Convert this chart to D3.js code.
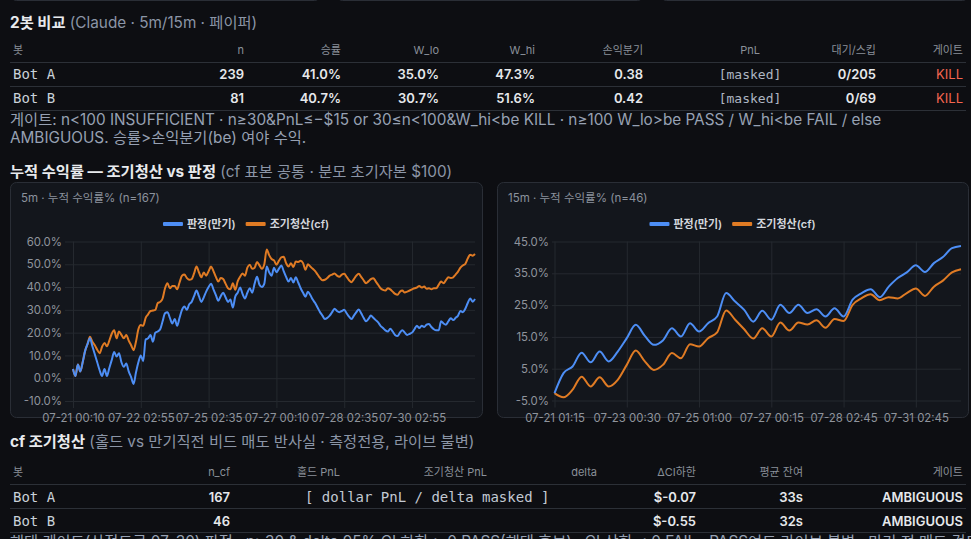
<!DOCTYPE html>
<html>
<head>
<meta charset="utf-8">
<script src="https://cdn.jsdelivr.net/npm/d3@7"></script>
<style>
    html, body { margin: 0; padding: 0; background: #0d0e12; overflow: hidden; }
    svg { display: block; }
</style>
</head>
<body>
<svg id="page" width="971" height="539"></svg>
<script>
(function () {

    'use strict';

    // ---- data ----

    var botNames = ['Bot A', 'Bot B'];

    var compareHeaders = ['봇', 'n', '승률', 'W_lo', 'W_hi', '손익분기', 'PnL', '대기/스킵', '게이트'];
    var compareN = ['239', '81'];
    var compareWinRate = ['41.0%', '40.7%'];
    var compareWLo = ['35.0%', '30.7%'];
    var compareWHi = ['47.3%', '51.6%'];
    var compareBreakeven = ['0.38', '0.42'];
    var comparePnl = ['[masked]', '[masked]'];
    var compareWaitSkip = ['0/205', '0/69'];
    var compareGate = ['KILL', 'KILL'];

    var cfHeaders = ['봇', 'n_cf', '홀드 PnL', '조기청산 PnL', 'delta', 'ΔCI하한', '평균 잔여', '게이트'];
    var cfN = ['167', '46'];
    var cfCiLow = ['$-0.07', '$-0.55'];
    var cfRemain = ['33s', '32s'];
    var cfGate = ['AMBIGUOUS', 'AMBIGUOUS'];
    var cfMaskedNote = '[ dollar PnL / delta masked ]';

    var seriesNames = ['판정(만기)', '조기청산(cf)'];

    // 5m, n=167
    var judge5m = [
        4.0, 1.0, 6.0, 3.0, 7.0, 12.0, 15.0, 17.5, 14.0, 10.5,
        7.0, 3.5, 1.0, 4.0, 1.0, 4.5, 8.0, 11.5, 9.5, 11.0,
        7.0, 5.0, 6.5, 3.0, 0.5, -2.5, 2.5, 7.0, 10.0, 7.5,
        17.0, 17.5, 19.0, 16.0, 20.0, 20.5, 21.5, 25.0, 28.5, 29.0,
        26.5, 24.0, 26.0, 23.0, 26.5, 30.0, 31.5, 30.0, 32.5, 33.5,
        36.0, 38.5, 36.0, 33.5, 35.5, 38.0, 40.0, 41.5, 39.0, 36.5,
        34.0, 36.0, 37.5, 35.5, 33.5, 34.5, 31.0, 35.8, 37.5, 39.8,
        37.0, 35.0, 37.5, 39.5, 37.5, 41.5, 44.5, 41.0, 40.0, 41.5,
        49.0, 46.5, 45.0, 48.5, 46.5, 48.0, 49.5, 47.0, 44.5, 42.4,
        44.0, 42.0, 44.3, 42.0, 39.5, 37.5, 35.8, 38.0, 36.5, 34.5,
        33.0, 31.0, 29.0, 27.5, 26.0, 26.5, 27.5, 29.0, 30.5, 29.5,
        29.0, 29.5, 30.0, 28.5, 27.0, 26.0, 27.5, 29.0, 30.2, 28.5,
        26.5, 25.0, 26.0, 27.5, 26.5, 25.5, 24.5, 23.0, 22.0, 21.0,
        20.5, 21.7, 20.5, 19.0, 18.5, 20.0, 21.0, 20.0, 19.0, 19.5,
        20.0, 21.5, 23.0, 22.0, 23.0, 22.5, 23.5, 23.8, 22.5, 21.5,
        21.0, 21.0, 25.0, 24.0, 23.5, 25.0, 26.3, 25.5, 26.5, 27.5,
        29.5, 29.0, 30.5, 33.0, 35.0, 33.6, 34.8
    ];
    var early5m = [
        4.0, 1.0, 6.0, 3.0, 7.0, 12.0, 15.0, 18.2, 16.0, 14.5,
        12.5, 11.0, 13.8, 15.5, 14.0, 16.5, 19.5, 21.0, 17.5, 20.5,
        19.0, 17.5, 19.0, 16.5, 14.5, 12.3, 16.0, 21.5, 23.3, 23.0,
        26.5, 28.0, 29.5, 29.7, 30.0, 33.0, 33.5, 35.0, 39.5, 41.7,
        39.5, 40.5, 40.5, 39.0, 42.0, 45.0, 45.5, 44.0, 43.2, 43.5,
        46.0, 49.0, 46.5, 44.3, 46.4, 45.0, 47.0, 49.0, 47.0, 44.5,
        42.4, 44.0, 43.5, 41.5, 39.5, 39.0, 41.7, 38.8, 42.5, 44.5,
        46.0, 45.0, 48.5, 49.8, 48.0, 48.5, 51.0, 49.5, 48.0, 50.0,
        56.5, 54.0, 52.3, 51.7, 49.8, 51.5, 53.0, 53.3, 50.5, 49.0,
        50.5, 48.8, 51.2, 51.0, 51.5, 50.5, 47.6, 50.0, 49.0, 48.0,
        47.0, 45.5, 44.0, 43.0, 43.2, 44.0, 45.0, 45.5, 46.0, 45.0,
        44.5, 45.5, 45.8, 44.5, 43.0, 42.1, 43.5, 45.0, 45.8, 44.5,
        43.0, 41.7, 42.5, 43.5, 43.9, 42.5, 41.0, 39.5, 38.8, 38.5,
        39.5, 39.0, 38.0, 37.0, 36.6, 38.0, 38.5, 37.6, 38.0, 38.5,
        39.0, 39.5, 39.8, 40.5, 39.8, 40.2, 39.3, 39.5, 39.0, 39.5,
        39.5, 41.0, 42.4, 41.7, 43.0, 44.3, 44.0, 44.3, 45.5, 46.8,
        48.5, 49.5, 50.2, 52.5, 54.2, 53.8, 54.5
    ];
    var ticks5m = [0, 28, 56, 84, 112, 140];
    var tickLabels5m = ['07-21 00:10', '07-22 02:55', '07-25 02:35', '07-27 00:10', '07-28 02:35', '07-30 02:55'];
    var yTicks5m = [60, 50, 40, 30, 20, 10, 0, -10];

    // 15m, n=46
    var judge15m = [
        -2.7, 3.6, 5.7, 10.0, 7.0, 10.4, 7.3, 10.4, 14.6, 18.8,
        15.3, 12.5, 13.9, 17.7, 15.1, 19.3, 16.7, 19.3, 21.4, 28.8,
        26.1, 23.5, 19.8, 23.2, 20.4, 25.1, 22.5, 25.1, 22.5, 23.7,
        21.4, 24.0, 21.4, 26.7, 28.8, 30.0, 27.5, 30.8, 33.5, 35.3,
        37.5, 35.4, 38.2, 40.1, 42.9, 43.6
    ];
    var early15m = [
        -2.7, -4.0, -1.6, 2.5, -0.6, 2.3, -0.6, 1.5, 6.2, 10.7,
        7.3, 4.6, 6.2, 9.9, 8.3, 12.7, 12.0, 14.6, 16.4, 23.3,
        20.4, 17.4, 14.5, 17.7, 15.1, 19.5, 17.0, 19.5, 18.9, 20.2,
        17.9, 20.6, 20.0, 25.1, 27.2, 28.4, 26.5, 27.5, 27.1, 28.8,
        30.2, 27.9, 30.8, 32.7, 35.3, 36.3
    ];
    var ticks15m = [0, 8, 16, 24, 32, 40];
    var tickLabels15m = ['07-21 01:15', '07-23 00:30', '07-25 01:00', '07-27 00:15', '07-28 02:45', '07-31 02:45'];
    var yTicks15m = [45, 35, 25, 15, 5, -5];

    // ---- style ----

    var sans = 'Inter, "Noto Sans CJK KR", "Noto Sans", sans-serif';
    var mono = '"DejaVu Sans Mono", "Liberation Mono", monospace';
    var blue = '#4d8ef5';
    var orange = '#e07b24';
    var panelFill = '#13161c';
    var panelStroke = '#2a2e36';
    var gridColor = '#25292f';
    var ruleColor = '#2c3037';

    var svg = d3.select('#page');

    svg.append('rect')
        .attr('width', 971).attr('height', 539)
        .attr('fill', '#0d0e12');

    // bottoms of the cards above (cut off)
    [[10.5, 310], [336.5, 307], [660.5, 308]].forEach(function (c) {
        svg.append('rect')
            .attr('x', c[0]).attr('y', -20)
            .attr('width', c[1]).attr('height', 20.5)
            .attr('rx', 6)
            .attr('fill', panelFill)
            .attr('stroke', panelStroke);
    });

    var sectionTitle = function (x, y, bold, rest) {
        var t = svg.append('text')
            .attr('x', x).attr('y', y)
            .attr('font-family', sans)
            .attr('font-size', 15.3);
        t.append('tspan')
            .attr('font-weight', 700)
            .attr('fill', '#e8eaed')
            .text(bold);
        t.append('tspan')
            .attr('fill', '#8b95a6')
            .text(' ' + rest);
    };

    var drawTable = function (cols, headers, rows, headerY, rowYs, ruleYs) {

        var g = svg.append('g');

        ruleYs.forEach(function (ry) {
            g.append('line')
                .attr('x1', 10).attr('x2', 966)
                .attr('y1', ry + 0.5).attr('y2', ry + 0.5)
                .attr('stroke', ruleColor);
        });

        headers.forEach(function (h, i) {
            g.append('text')
                .attr('x', cols[i].x).attr('y', headerY)
                .attr('text-anchor', cols[i].anchor)
                .attr('font-family', sans)
                .attr('font-size', 11)
                .attr('fill', '#8a9099')
                .text(h);
        });

        rows.forEach(function (row, r) {
            row.forEach(function (cell, i) {
                if (cell === null) return;
                g.append('text')
                    .attr('x', cols[i].x).attr('y', rowYs[r])
                    .attr('text-anchor', cols[i].anchor)
                    .attr('font-family', cell.mono ? mono : sans)
                    .attr('font-size', cell.size || 13)
                    .attr('font-weight', cell.weight || (cell.mono ? 400 : 600))
                    .attr('fill', cell.color || '#e6e8eb')
                    .text(cell.text);
            });
        });
    };

    // ---- 2봇 비교 ----

    sectionTitle(10, 28, '2봇 비교', '(Claude · 5m/15m · 페이퍼)');

    var compareCols = [
        {x: 13, anchor: 'start'}, {x: 244, anchor: 'end'}, {x: 341, anchor: 'end'},
        {x: 439, anchor: 'end'}, {x: 535, anchor: 'end'}, {x: 643, anchor: 'end'},
        {x: 750, anchor: 'middle'}, {x: 876, anchor: 'end'}, {x: 963, anchor: 'end'}
    ];

    var compareRows = botNames.map(function (name, i) {
        return [
            {text: name, mono: true, size: 14, color: '#c9d1d9'},
            {text: compareN[i]},
            {text: compareWinRate[i]},
            {text: compareWLo[i]},
            {text: compareWHi[i]},
            {text: compareBreakeven[i]},
            {text: comparePnl[i], mono: true, size: 13, color: '#aeb6c2'},
            {text: compareWaitSkip[i]},
            {text: compareGate[i], color: '#f4654f', weight: 400}
        ];
    });

    drawTable(compareCols, compareHeaders, compareRows, 54, [79, 103], [62, 86, 110]);

    var noteStyle = function (t) {
        return t.attr('font-family', sans).attr('font-size', 15.3).attr('fill', '#97a1b3');
    };

    noteStyle(svg.append('text').attr('x', 10).attr('y', 125))
        .text('게이트: n<100 INSUFFICIENT · n≥30&PnL≤−$15 or 30≤n<100&W_hi<be KILL · n≥100 W_lo>be PASS / W_hi<be FAIL / else');
    noteStyle(svg.append('text').attr('x', 10).attr('y', 143))
        .text('AMBIGUOUS. 승률>손익분기(be) 여야 수익.');

    // ---- 누적 수익률 ----

    sectionTitle(10, 177, '누적 수익률 — 조기청산 vs 판정', '(cf 표본 공통 · 분모 초기자본 $100)');

    var drawLineChart = function (opt) {

        var g = svg.append('g');

        g.append('rect')
            .attr('x', opt.panel[0] + 0.5).attr('y', opt.panel[1] + 0.5)
            .attr('width', opt.panel[2]).attr('height', opt.panel[3])
            .attr('rx', 6)
            .attr('fill', panelFill)
            .attr('stroke', panelStroke);

        g.append('text')
            .attr('x', opt.panel[0] + 11).attr('y', opt.panel[1] + 20)
            .attr('font-family', sans)
            .attr('font-size', 11.5)
            .attr('fill', '#8b929c')
            .text(opt.title);

        // legend, centred on the panel
        var legend = g.append('g');
        var lx = 0;
        seriesNames.forEach(function (name, i) {
            legend.append('rect')
                .attr('x', lx).attr('y', -2)
                .attr('width', 20).attr('height', 4)
                .attr('rx', 1)
                .attr('fill', i === 0 ? blue : orange);
            var txt = legend.append('text')
                .attr('x', lx + 24).attr('y', 4)
                .attr('font-family', sans)
                .attr('font-size', 11)
                .attr('font-weight', 600)
                .attr('fill', '#d3d7dd')
                .text(name);
            lx += 24 + txt.node().getComputedTextLength() + 10;
        });
        var legendW = lx - 10;
        legend.attr('transform', 'translate(' + (opt.panel[0] + opt.panel[2] / 2 - legendW / 2) + ',' + (opt.panel[1] + 42) + ')');

        var x = d3.scaleLinear()
            .domain([0, opt.series[0].length - 1])
            .range([opt.xFirst, opt.plot.right]);

        var y = d3.scaleLinear()
            .domain([opt.yTicks[opt.yTicks.length - 1], opt.yTicks[0]])
            .range([opt.plot.bottom, opt.plot.top]);

        var yAxis = d3.axisLeft(y)
            .tickValues(opt.yTicks)
            .tickSize(-(opt.plot.right - opt.plot.left))
            .tickPadding(3)
            .tickFormat(function (d) { return d.toFixed(1) + '%'; });

        var yG = g.append('g')
            .attr('transform', 'translate(' + opt.plot.left + ',0)')
            .call(yAxis);

        var xAxis = d3.axisBottom(x)
            .tickValues(opt.ticks)
            .tickSize(-(opt.plot.bottom + 7 - opt.plot.top))
            .tickPadding(6)
            .tickFormat(function (d, i) { return opt.tickLabels[i]; });

        var xG = g.append('g')
            .attr('transform', 'translate(0,' + (opt.plot.bottom + 7) + ')')
            .call(xAxis);

        [yG, xG].forEach(function (a) {
            a.select('.domain').remove();
            a.selectAll('line').attr('stroke', gridColor);
            a.selectAll('text')
                .attr('font-family', sans)
                .attr('font-size', 11.4)
                .attr('fill', '#8f949c');
        });

        var line = d3.line()
            .x(function (d, i) { return x(i); })
            .y(function (d) { return y(d); })
            .curve(d3.curveMonotoneX);

        // orange first so the blue line sits on top
        [[opt.series[1], orange], [opt.series[0], blue]].forEach(function (s) {
            g.append('path')
                .datum(s[0])
                .attr('d', line)
                .attr('fill', 'none')
                .attr('stroke', s[1])
                .attr('stroke-width', 2)
                .attr('stroke-linejoin', 'round');
        });
    };

    drawLineChart({
        panel: [10, 182, 472, 235],
        title: '5m · 누적 수익률% (n=167)',
        plot: {left: 65, right: 475, top: 241.5, bottom: 401},
        xFirst: 73,
        series: [judge5m, early5m],
        ticks: ticks5m,
        tickLabels: tickLabels5m,
        yTicks: yTicks5m
    });

    drawLineChart({
        panel: [497, 182, 471, 235],
        title: '15m · 누적 수익률% (n=46)',
        plot: {left: 552, right: 961, top: 241.5, bottom: 400.5},
        xFirst: 554.5,
        series: [judge15m, early15m],
        ticks: ticks15m,
        tickLabels: tickLabels15m,
        yTicks: yTicks15m
    });

    // ---- cf 조기청산 ----

    sectionTitle(10, 447, 'cf 조기청산', '(홀드 vs 만기직전 비드 매도 반사실 · 측정전용, 라이브 불변)');

    var cfCols = [
        {x: 13, anchor: 'start'}, {x: 230, anchor: 'end'}, {x: 340, anchor: 'end'},
        {x: 487, anchor: 'end'}, {x: 597, anchor: 'end'}, {x: 696, anchor: 'end'},
        {x: 803, anchor: 'end'}, {x: 963, anchor: 'end'}
    ];

    var cfRows = botNames.map(function (name, i) {
        return [
            {text: name, mono: true, size: 14, color: '#c9d1d9'},
            {text: cfN[i]},
            null, null, null,
            {text: cfCiLow[i]},
            {text: cfRemain[i]},
            {text: cfGate[i]}
        ];
    });

    drawTable(cfCols, cfHeaders, cfRows, 476, [502, 526], [484, 508, 532]);

    svg.append('text')
        .attr('x', 305).attr('y', 502)
        .attr('font-family', mono)
        .attr('font-size', 14)
        .attr('fill', '#c3c9d2')
        .text(cfMaskedNote);

    // the page continues below the window; only the top of this line shows
    noteStyle(svg.append('text').attr('x', 10).attr('y', 547))
        .text('해태 게이트(산정도큐 07-30) 판정 : n≥30 & delta 95% CI 하한 > 0 PASS(해태 후보) · CI 상한 < 0 FAIL · PASS여도 라이브 불변 · 만기 전 매도 검토');

}());
</script>
</body>
</html>
